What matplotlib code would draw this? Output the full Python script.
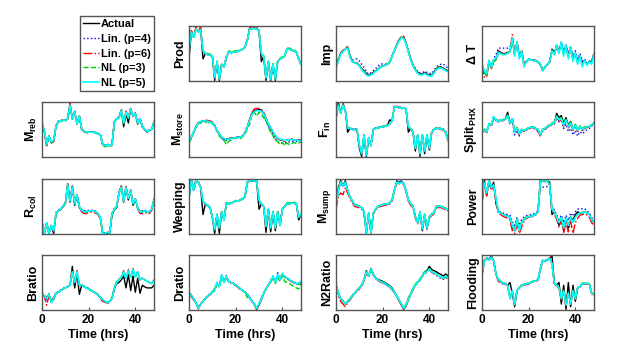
import numpy as np
import matplotlib
matplotlib.use("Agg")
import matplotlib.pyplot as plt

plt.rcParams['font.family'] = ['Liberation Sans', 'DejaVu Sans']
plt.rcParams['font.weight'] = 'bold'
plt.rcParams['mathtext.fontset'] = 'custom'
plt.rcParams['mathtext.rm'] = 'Liberation Sans'
plt.rcParams['mathtext.bf'] = 'Liberation Sans:bold'

# hourly samples, 0..48 hrs; values are normalised 0..100 within each panel
# order in each panel list: Actual, Lin (p=4), Lin (p=6), NL (p=3), NL (p=5)
PROD = [
    [40,90,80,95,90,95,40,50,48,47,45,0,35,0,30,25,42,53,52,52,53,54,56,58,62,75,96,96,97,96,92,35,45,0,35,0,30,0,35,40,42,45,58,58,56,55,52,40,30],
    [55,90,81,95,91,95,55,49,48,47,45,6,34,4,30,26,43,52,51,52,53,54,56,58,62,76,95,96,97,96,92,50,44,6,34,3,30,4,35,40,43,45,57,58,56,55,52,41,31],
    [55,93,82,100,92,100,55,50,48,47,45,5,35,3,30,25,42,53,52,52,53,54,56,58,62,76,98,100,99,100,93,50,45,5,35,2,30,3,35,40,42,45,58,58,56,55,52,40,30],
    [55,90,80,95,90,95,55,52,50,49,47,5,36,3,31,26,44,55,54,54,55,56,57,58,62,75,95,96,96,95,92,50,46,5,36,2,31,3,36,41,44,46,60,60,58,57,54,41,31],
    [55,90,80,95,90,94,55,50,48,47,45,5,35,3,30,25,42,53,52,52,53,54,56,58,62,75,95,96,96,95,92,50,45,5,35,2,30,3,35,40,42,45,58,58,56,55,52,40,30],
]
IMP = [
    [25,38,50,55,58,62,45,35,33,32,28,22,18,12,10,12,15,18,20,25,27,28,30,33,45,55,65,75,80,80,70,55,40,28,20,15,12,12,15,12,10,10,15,22,25,25,23,20,18],
    [25,38,50,55,58,61,46,38,40,40,36,30,24,16,12,14,18,22,27,30,31,30,31,34,45,55,65,74,79,79,69,54,40,30,22,16,14,14,17,15,13,13,18,25,29,30,30,27,22],
    [27,40,52,56,58,64,45,36,34,32,28,21,16,11,9,11,14,18,21,25,27,28,30,33,45,56,66,76,82,82,70,54,39,28,20,14,11,11,14,11,9,9,14,21,24,24,22,19,17],
    [24,37,49,54,57,61,45,35,33,31,27,21,16,11,9,11,14,18,21,25,27,29,31,34,45,55,65,74,80,79,69,54,39,28,20,14,11,11,14,11,9,9,14,21,24,24,22,19,17],
    [23,36,48,54,58,60,44,35,33,31,27,20,15,10,8,10,13,17,20,24,26,28,30,33,44,55,64,73,79,78,68,53,38,27,19,13,10,10,13,10,8,8,13,20,23,23,21,18,16],
]
DELTA_T = [
    [30,15,10,35,25,35,40,55,52,50,50,52,55,75,50,70,45,55,30,35,40,38,38,37,35,30,20,25,30,35,58,50,65,55,70,50,65,45,60,40,50,35,45,30,38,30,35,35,50],
    [30,15,12,35,28,40,48,60,60,60,60,60,62,75,52,70,47,55,32,36,40,38,38,37,35,30,20,25,30,35,58,52,66,56,70,52,68,50,64,45,55,40,50,36,40,32,36,36,50],
    [28,5,8,34,22,34,40,54,51,49,49,51,55,85,48,72,44,55,30,35,40,38,37,36,34,28,18,24,29,34,56,48,64,54,70,48,64,44,60,38,50,34,44,30,37,30,34,34,50],
    [30,14,8,33,24,34,38,50,49,48,48,50,53,74,48,68,44,52,28,34,40,38,37,36,34,29,19,24,29,34,55,49,62,52,68,48,62,42,58,38,48,33,42,30,36,30,34,33,48],
    [32,18,12,38,25,38,42,52,50,48,48,50,55,78,45,72,40,55,25,35,40,38,37,36,35,30,18,25,30,35,55,48,66,50,72,45,66,40,62,35,52,30,45,25,38,28,35,30,50],
]
M_REB = [
    [62,47,20,38,25,28,56,65,65,67,67,70,97,70,83,60,75,50,47,44,45,45,45,44,42,40,23,20,22,20,22,65,70,72,86,55,80,62,89,75,80,60,70,55,50,45,48,50,65],
    [63,48,22,37,27,30,57,66,67,68,68,71,95,71,84,61,76,52,48,46,46,46,46,45,43,41,24,21,23,21,23,64,71,73,85,63,84,73,88,77,81,62,71,57,51,47,49,51,65],
    [62,46,18,38,25,28,56,65,66,67,67,70,100,70,84,60,75,50,46,44,45,45,45,44,42,40,22,19,21,19,21,64,70,73,88,62,84,72,90,76,80,61,70,55,50,45,48,50,64],
    [61,48,22,38,26,30,55,64,65,66,66,69,94,69,82,60,74,51,47,45,45,45,45,44,42,40,20,18,20,18,21,63,69,71,84,61,81,71,87,75,79,61,69,56,50,46,48,50,63],
    [62,48,22,38,27,30,56,65,66,67,67,70,95,70,83,60,75,51,47,45,45,45,45,44,42,40,23,20,22,20,22,64,70,72,85,62,82,72,88,76,80,62,70,56,50,46,48,50,65],
]
M_STORE = [
    [26,35,45,55,62,64,66,66,66,65,63,58,47,42,36,32,32,33,34,34,35,36,36,38,44,55,68,80,85,86,87,86,80,70,60,52,45,38,33,31,30,29,30,31,32,31,30,30,31],
    [26,35,45,55,62,64,65,65,65,64,62,57,47,40,34,30,30,31,32,33,34,35,35,37,43,54,67,79,84,86,86,84,78,67,57,48,40,32,27,25,25,25,26,27,28,28,28,28,29],
    [26,36,46,56,63,66,67,67,67,66,63,58,48,42,36,32,32,33,34,34,35,36,36,38,45,56,69,82,88,89,89,88,82,71,61,53,45,38,33,31,30,29,30,31,32,31,30,30,31],
    [25,33,44,54,60,62,66,63,65,60,62,55,48,38,33,30,22,28,30,33,34,35,33,37,40,52,60,79,82,75,82,78,72,66,55,45,38,30,28,22,26,20,25,22,24,26,24,25,27],
    [27,36,46,55,62,65,66,66,65,64,62,57,48,42,36,33,32,32,33,34,35,35,36,38,44,55,67,78,83,85,85,84,79,70,61,53,46,39,34,32,31,30,30,31,31,31,30,29,30],
]
F_IN = [
    [71,100,80,98,85,45,52,50,50,50,15,0,40,0,35,20,50,52,53,54,55,56,57,68,65,92,92,91,90,90,88,45,52,45,10,40,0,40,5,40,12,45,50,52,52,51,50,45,30],
    [70,94,80,94,85,54,53,51,51,51,22,7,39,4,34,22,51,53,54,55,56,57,58,61,66,91,91,90,89,89,87,55,53,46,17,39,7,39,12,39,17,46,51,53,53,52,51,46,32],
    [71,96,81,96,86,53,52,50,50,50,20,5,40,2,35,20,50,52,53,54,55,56,57,60,65,93,93,92,91,91,89,54,51,44,14,39,5,39,10,39,14,44,49,51,51,50,49,44,28],
    [72,95,80,95,85,53,53,51,50,50,21,6,40,3,35,21,51,53,54,55,56,57,58,60,66,92,92,91,90,90,88,55,53,46,16,40,6,40,11,40,16,46,51,53,53,52,51,46,31],
    [71,95,80,95,85,53,52,50,50,50,20,5,40,2,35,20,50,52,53,54,55,56,57,60,65,92,92,91,90,90,88,55,52,45,15,40,5,40,10,40,15,45,50,52,52,51,50,45,30],
]
SPLIT_PHX = [
    [45,50,45,60,58,72,68,66,68,67,70,82,62,70,45,52,42,50,48,50,53,54,54,52,50,40,50,52,55,58,60,62,80,72,76,62,72,58,65,50,58,48,55,50,53,55,55,58,63],
    [44,49,44,59,57,73,67,64,67,66,69,75,60,68,40,48,38,48,47,49,52,53,53,51,49,40,49,51,54,57,59,60,72,64,66,52,60,46,52,40,48,38,46,42,46,50,52,56,62],
    [44,49,44,59,57,72,67,65,67,66,69,75,61,69,43,50,40,48,47,49,52,52,52,50,46,38,46,50,54,57,59,61,72,66,68,56,66,53,60,48,56,46,53,48,52,54,54,57,61],
    [46,51,46,61,59,74,69,66,69,68,71,77,63,71,47,54,44,51,49,51,54,55,55,53,51,41,51,53,56,60,62,64,75,70,72,60,70,57,64,52,60,50,57,52,55,56,56,59,63],
    [45,50,45,60,58,74,68,65,68,67,70,76,62,70,45,52,42,50,48,50,53,54,54,52,50,40,50,52,55,58,60,62,74,68,70,58,68,55,62,50,58,48,55,50,53,55,55,58,62],
]
R_COL = [
    [20,0,18,0,14,0,36,42,44,50,55,92,58,88,52,72,48,42,40,40,42,42,42,40,36,28,0,0,0,0,34,44,48,76,88,58,86,62,80,52,64,46,40,40,42,40,40,44,64],
    [22,2,20,2,16,6,39,44,46,52,56,89,61,85,56,72,51,45,42,42,43,43,43,41,38,30,1,1,3,1,37,46,51,75,85,61,84,66,79,56,64,49,42,42,43,41,41,46,62],
    [21,0,20,0,15,5,38,41,44,49,54,92,60,88,55,73,50,40,37,37,39,39,39,38,35,29,0,0,2,0,36,43,48,76,88,60,87,65,81,55,64,46,37,37,39,37,37,43,60],
    [21,1,20,1,15,6,38,42,45,50,55,89,60,85,55,71,50,44,41,41,42,42,42,40,37,30,0,0,2,0,38,46,51,74,85,61,84,66,79,56,63,48,41,41,42,40,40,46,62],
    [21,0,20,0,15,5,38,42,45,50,55,90,60,86,55,72,50,43,40,40,42,42,42,40,37,30,0,0,2,0,37,45,50,75,86,60,85,65,80,55,64,48,40,40,42,40,40,45,62],
]
WEEPING = [
    [68,100,80,98,95,85,35,55,52,48,30,0,35,0,40,25,56,55,56,58,60,60,62,64,68,95,98,98,98,97,45,55,50,2,45,3,40,5,40,15,45,50,55,55,56,56,55,25,35],
    [67,98,80,97,94,85,58,54,51,48,31,9,35,12,40,26,55,55,56,58,60,60,62,64,68,94,97,97,97,96,62,54,50,15,44,12,40,12,40,17,45,50,55,55,56,56,55,31,35],
    [68,100,82,100,97,86,59,55,52,48,30,7,35,10,40,25,56,55,56,58,60,60,62,64,68,96,100,100,99,98,62,55,50,13,45,10,40,10,40,15,45,50,55,55,56,56,55,30,35],
    [68,99,80,98,95,85,59,56,53,49,31,8,36,11,41,26,57,56,57,59,61,61,63,65,69,95,98,98,98,97,63,56,51,14,46,11,41,11,41,16,46,51,57,57,58,58,56,31,36],
    [68,100,80,98,95,85,59,55,52,48,30,7,35,10,40,25,56,55,56,58,60,60,62,64,68,95,98,98,98,97,62,55,50,13,45,10,40,10,40,15,45,50,55,55,56,56,55,30,35],
]
M_SUMP = [
    [50,85,98,88,98,80,68,60,53,52,50,48,40,0,38,0,38,45,50,52,53,54,55,56,62,80,96,95,97,92,80,62,55,50,30,20,40,5,35,8,30,35,38,50,50,50,48,46,44],
    [49,78,93,87,94,80,67,59,53,52,50,48,40,2,37,2,37,45,50,52,53,54,55,56,62,80,98,96,97,92,80,61,55,50,31,21,40,9,35,12,31,36,39,50,50,50,48,46,44],
    [45,68,75,72,85,75,65,57,50,49,47,45,38,0,35,0,36,43,48,50,51,52,53,54,60,78,94,92,94,91,78,60,52,48,28,18,37,7,32,9,28,33,36,48,48,48,46,44,42],
    [51,80,95,88,95,80,68,61,54,53,51,49,41,2,38,2,39,46,51,53,54,55,56,57,63,80,95,93,95,92,80,63,56,52,32,22,40,10,36,12,32,36,39,51,51,51,49,47,44],
    [50,80,95,88,95,80,68,60,53,52,50,48,40,0,38,0,38,45,50,52,53,54,55,56,62,80,95,93,95,92,80,62,55,50,30,20,40,8,35,10,30,35,38,50,50,50,48,46,44],
]
POWER = [
    [60,100,70,100,85,95,55,40,38,35,33,32,30,10,5,25,8,20,25,30,31,32,33,35,40,100,98,100,98,95,35,40,30,15,30,5,28,10,30,25,35,40,38,38,40,38,35,25,20],
    [66,90,78,92,84,88,66,42,40,38,36,35,34,22,15,30,15,26,30,33,34,35,36,38,42,88,86,86,87,85,48,44,34,26,34,20,34,24,38,32,40,45,46,46,46,42,38,30,24],
    [55,92,70,95,80,88,62,37,35,32,30,28,25,5,0,15,0,12,22,28,30,31,32,34,39,95,97,96,97,88,42,36,26,12,24,2,20,3,22,0,20,28,34,35,36,34,30,20,15],
    [64,94,76,97,85,89,65,41,39,36,34,33,31,17,8,26,8,22,26,31,32,33,34,36,41,96,97,96,97,89,46,41,31,22,31,12,29,17,31,22,31,36,39,39,41,39,36,26,21],
    [65,95,75,98,85,90,65,40,38,35,33,32,30,15,5,25,5,20,25,30,31,32,33,35,40,97,98,97,98,90,45,40,30,20,30,10,28,15,30,20,30,35,38,38,40,38,35,25,20],
]
BRATIO = [
    [30,25,22,28,15,22,30,32,35,38,40,42,45,80,40,68,28,45,42,40,38,35,33,30,27,22,15,15,13,15,20,38,48,50,55,62,40,65,35,62,32,58,30,45,42,40,40,40,45],
    [31,27,18,29,12,21,31,33,36,39,41,43,46,68,48,68,46,46,43,41,39,36,34,31,27,22,17,14,11,14,20,40,50,55,60,68,58,70,60,73,60,70,56,58,56,53,51,49,55],
    [28,24,8,26,15,18,30,32,35,38,40,42,45,72,50,72,45,45,42,40,38,35,33,30,27,22,16,13,12,15,20,40,50,56,62,72,58,74,60,76,60,70,55,58,55,52,50,48,55],
    [30,25,20,28,13,20,30,32,35,38,40,42,46,70,50,68,46,46,43,41,39,36,34,31,28,23,19,16,12,16,22,42,52,56,60,68,58,70,60,74,60,68,55,58,55,52,50,48,55],
    [30,25,20,28,12,20,30,32,35,38,40,42,45,70,50,70,45,45,42,40,38,35,33,30,27,22,18,15,13,15,20,40,50,55,60,70,58,72,60,75,60,70,55,58,55,52,50,48,55],
]
DRATIO = [
    [32,26,20,12,3,10,15,20,25,28,32,38,48,44,62,52,60,52,50,48,45,42,38,35,32,28,22,15,10,0,8,18,30,38,45,52,60,52,62,56,65,60,58,55,52,50,48,47,50],
    [30,25,20,13,4,11,16,21,26,29,33,39,50,44,65,52,63,53,51,49,46,43,39,36,33,29,23,16,11,3,11,21,31,39,46,53,62,52,68,56,67,61,59,56,53,51,49,49,52],
    [29,23,18,10,1,9,14,19,24,27,31,37,48,42,62,50,60,51,49,47,44,41,37,34,31,27,21,14,8,1,9,19,29,37,44,51,60,50,64,55,66,59,57,54,51,49,47,47,51],
    [30,25,20,12,3,10,15,20,25,28,32,34,48,42,62,50,60,52,50,48,45,42,38,35,32,22,22,15,10,2,10,20,30,38,45,50,58,48,60,52,62,52,50,48,45,42,40,38,48],
    [30,25,20,12,2,10,15,20,25,28,32,38,50,42,64,50,62,52,50,48,45,42,38,35,32,28,22,15,10,2,10,20,30,38,45,52,62,50,65,55,67,60,58,55,52,50,48,48,52],
]
N2RATIO = [
    [46,30,20,15,10,14,20,25,30,35,40,45,55,72,62,76,65,58,56,54,52,50,47,44,40,33,25,17,9,0,7,18,28,38,45,50,55,62,70,72,80,74,72,70,67,65,62,66,62],
    [45,30,19,14,9,14,20,25,30,35,40,44,54,68,61,73,63,57,54,51,49,47,44,41,37,31,24,17,9,2,8,18,28,38,45,50,55,62,67,69,74,69,66,63,60,58,56,60,56],
    [44,25,15,10,5,12,18,24,29,34,38,44,50,68,60,74,64,57,54,51,49,47,44,41,37,31,24,16,8,0,6,16,27,37,44,49,54,61,67,69,74,69,67,64,61,59,57,60,56],
    [46,31,21,16,11,16,21,26,32,36,41,46,56,70,63,75,65,59,56,53,51,49,46,43,39,33,26,19,11,4,10,22,30,40,47,52,57,64,70,72,76,71,69,66,63,61,58,60,57],
    [45,30,20,15,10,15,20,25,30,35,40,45,55,70,62,75,65,58,55,52,50,48,45,42,38,32,25,18,10,2,8,18,28,38,45,50,55,62,68,70,75,70,68,65,62,60,58,62,58],
]
FLOODING = [
    [64,90,95,92,100,90,65,55,52,48,48,45,50,30,5,35,40,45,46,47,48,50,52,53,55,75,91,90,92,95,100,48,45,50,10,45,0,50,5,45,15,40,42,48,48,48,47,30,28],
    [63,89,94,91,96,89,64,54,51,48,47,44,22,35,11,35,41,45,46,47,48,50,52,53,55,74,90,89,91,94,84,48,45,40,22,35,10,30,12,35,22,40,42,48,48,48,47,30,28],
    [64,91,96,93,98,91,65,52,50,47,47,44,20,34,8,34,39,44,45,46,47,49,51,52,54,75,92,91,93,96,85,47,44,39,19,34,7,29,9,34,19,39,41,47,47,47,46,29,27],
    [65,90,95,92,97,90,66,56,53,49,49,46,21,36,10,36,41,46,47,48,49,51,53,54,56,76,91,90,92,95,85,49,46,41,21,36,9,31,11,36,21,41,43,49,49,49,48,31,29],
    [64,90,95,92,97,90,65,55,52,48,48,45,20,35,9,35,40,45,46,47,48,50,52,53,55,75,91,90,92,95,85,48,45,40,20,35,8,30,10,35,20,40,42,48,48,48,47,30,28],
]

SERIES = ["Actual", "Lin. (p=4)", "Lin. (p=6)", "NL (p=3)", "NL (p=5)"]
COLORS = ["black", "blue", "red", "#00cc00", "cyan"]
STYLES = ["-", ":", "-.", "--", "-"]

# panel grid, row-major; None = legend slot
PANELS = [
    (None, None), ("Prod", PROD), ("Imp", IMP), ("Δ T", DELTA_T),
    (r"$\mathbf{M_{reb}}$", M_REB), (r"$\mathbf{M_{store}}$", M_STORE),
    (r"$\mathbf{F_{in}}$", F_IN), (r"$\mathbf{Split_{PHX}}$", SPLIT_PHX),
    (r"$\mathbf{R_{col}}$", R_COL), ("Weeping", WEEPING),
    (r"$\mathbf{M_{sump}}$", M_SUMP), ("Power", POWER),
    ("Bratio", BRATIO), ("Dratio", DRATIO), ("N2Ratio", N2RATIO), ("Flooding", FLOODING),
]

W, H = 628, 349
fig = plt.figure(figsize=(W / 100, H / 100), dpi=100)
col_left = [42, 189, 336, 482]
row_top = [26, 102, 179, 255]
aw, ah = 112, 55

handles = []
for k, (label, data) in enumerate(PANELS):
    r, c = divmod(k, 4)
    if data is None:
        continue
    ax = fig.add_axes([col_left[c] / W, 1 - (row_top[r] + ah) / H, aw / W, ah / H])
    for i, s in enumerate(data):
        t = np.linspace(0, 48, len(s))
        ln, = ax.plot(t, s, color=COLORS[i], ls=STYLES[i], lw=1.0 if i < 4 else 1.2)
        if k == 1:
            handles.append(ln)
    ax.set_xlim(0, 48)
    ax.set_ylim(-1, 101)
    ax.set_yticks([])
    ax.set_ylabel(label, fontsize=9, fontweight='bold', labelpad=2)
    for sp in ax.spines.values():
        sp.set_color('#555555')
        sp.set_linewidth(1.0)
    if r == 3:
        ax.set_xticks([0, 20, 40])
        ax.tick_params(axis='x', direction='in', length=2, labelsize=8.5, pad=3, color='#555555')
        for tl in ax.get_xticklabels():
            tl.set_fontweight('bold')
        ax.set_xlabel("Time (hrs)", fontsize=9, fontweight='bold', labelpad=2)
    else:
        ax.set_xticks([])

leg = fig.legend(handles, SERIES, loc='upper right', bbox_to_anchor=(154 / W, 1 - 16 / H),
                 frameon=True, fancybox=False, framealpha=1, edgecolor='#555555',
                 handlelength=1.45, handletextpad=0.15, labelspacing=0.42, borderpad=0.3,
                 borderaxespad=0, prop={'weight': 'bold', 'size': 8})
leg.get_frame().set_linewidth(1.0)

fig.savefig("out.png", dpi=100)
